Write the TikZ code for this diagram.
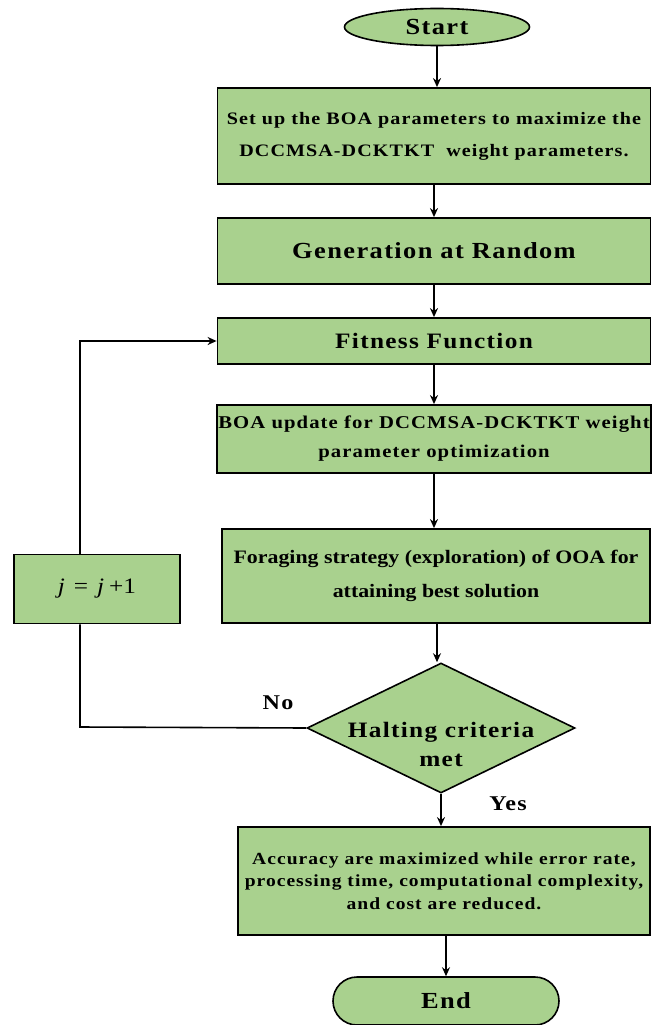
\documentclass[tikz,border=0pt]{standalone}
\usepackage{fontspec}
\setmainfont{Liberation Serif}
\newfontfamily\widefont[FakeStretch=1.15,LetterSpace=6]{Liberation Serif}
\newfontfamily\stretchfont[FakeStretch=1.15]{Liberation Serif}
\usetikzlibrary{shapes.geometric,arrows.meta}
\definecolor{boxgreen}{HTML}{A9D18E}
\tikzset{
  procbox/.style={draw, line width=1.8pt, fill=boxgreen, align=center, inner sep=0pt},
  termnode/.style={draw, line width=1.6pt, fill=boxgreen, inner sep=0pt},
  flowarrow/.style={line width=1.8pt, -{Stealth[length=9pt,width=8pt]}},
  flowline/.style={line width=1.6pt},
  lbl/.style={font=\widefont\bfseries\fontsize{21}{24}\selectfont}
}
\begin{document}
\begin{tikzpicture}[x=1pt,y=-1pt]
    \useasboundingbox (0,0) rectangle (651,1025);

    % Terminals
    \node[termnode, ellipse, minimum width=185, minimum height=37,
          font=\widefont\bfseries\fontsize{23}{26}\selectfont] (start) at (437,27) {Start};
    \node[termnode, rounded corners=24pt, minimum width=226, minimum height=48,
          font=\widefont\bfseries\fontsize{23}{26}\selectfont] (end) at (446,1001) {End};

    % Process boxes
    \node[procbox, minimum width=433, minimum height=96,
          font=\widefont\bfseries\fontsize{17.5}{32}\selectfont] (setup) at (434,136)
          {Set up the BOA parameters to maximize the\\DCCMSA-DCKTKT~ weight parameters.};
    \node[procbox, minimum width=433, minimum height=66,
          font=\widefont\bfseries\fontsize{23}{26}\selectfont] (gen) at (434,251) {Generation at Random};
    \node[procbox, minimum width=433, minimum height=46,
          font=\widefont\bfseries\fontsize{22}{26}\selectfont] (fit) at (434,341) {Fitness Function};
    \node[procbox, minimum width=434, minimum height=68,
          font=\widefont\bfseries\fontsize{18}{29}\selectfont] (upd) at (434,439)
          {BOA update for DCCMSA-DCKTKT weight\\parameter optimization};
    \node[procbox, minimum width=428, minimum height=94,
          font=\stretchfont\bfseries\fontsize{19}{34}\selectfont] (forage) at (436,576)
          {Foraging strategy (exploration) of OOA for\\attaining best solution};
    \node[shape=diamond, draw, line width=1.6pt, fill=boxgreen,
          minimum width=268, minimum height=130, inner sep=0pt,
          label={[align=center, yshift=-16pt,
                  font=\widefont\bfseries\fontsize{22}{29}\selectfont]center:Halting criteria\\met}]
          (halt) at (441,728) {};
    \node[procbox, minimum width=412, minimum height=108,
          font=\widefont\bfseries\fontsize{17}{22.5}\selectfont] (acc) at (444,881)
          {Accuracy are maximized while error rate,\\processing time, computational complexity,\\and cost are reduced.};
    \node[procbox, minimum width=166, minimum height=69,
          font=\stretchfont\fontsize{22}{24}\selectfont] (inc) at (97,589)
          {\textit{j}\hspace{9pt}=\hspace{9pt}\textit{j}\hspace{5pt}+1};

    % Labels
    \node[lbl] (no) at (278,703) {No};
    \node[lbl] (yes) at (508,804) {Yes};

    % Main flow
    \draw[flowarrow] (start) -- (setup.north -| start);
    \draw[flowarrow] (setup) -- (gen);
    \draw[flowarrow] (gen) -- (fit);
    \draw[flowarrow] (fit) -- (upd);
    \draw[flowarrow] (upd) -- (forage.north -| upd);
    \draw[flowarrow] (forage.south -| 437,0) -- (halt.north -| 437,0);
    \draw[flowarrow] (halt.south) -- (acc.north -| halt.south);
    \draw[flowarrow] (acc.south -| end) -- (end);

    % Loop back
    \draw[flowline] (halt.west) -- (80,727) -- (inc.south -| 80,0);
    \draw[flowarrow] (inc.north -| 80,0) -- (80,341) -- (fit.west);

  \end{tikzpicture}
\end{document}
